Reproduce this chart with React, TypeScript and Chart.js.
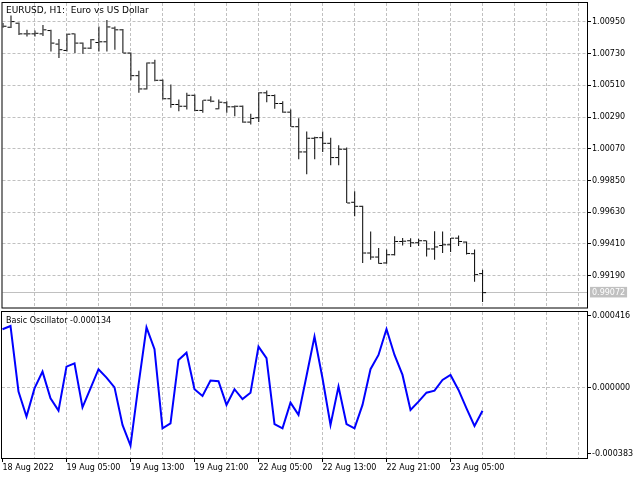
import React, { useEffect, useRef } from "react";
import { Chart, registerables } from "chart.js";

Chart.register(...registerables);

const FONT = "'DejaVu Sans', sans-serif";
Chart.defaults.font.family = FONT;

// ---- Data (EURUSD H1 bars, from 18 Aug 2022 21:00) ----
const opens = [
  1.00916, 1.00913, 1.00941, 1.00867, 1.00867, 1.00867, 1.0089, 1.00796, 1.00752, 1.00867,
  1.00803, 1.00768, 1.00807, 1.00812, 1.00907, 1.00895, 1.00734, 1.00577, 1.00485, 1.00665,
  1.00545, 1.00417, 1.00377, 1.00365, 1.00441, 1.00336, 1.00407, 1.00347, 1.00389, 1.00361,
  1.00365, 1.00255, 1.00285, 1.00458, 1.00439, 1.00384, 1.00324, 1.00223, 1.00048, 1.00143,
  1.00147, 1.00108, 1.00009, 1.00067, 0.99699, 0.99671, 0.99347, 0.99319, 0.99278, 0.99335,
  0.99427, 0.99432, 0.99418, 0.99432, 0.99375, 0.99399, 0.99404, 0.9945, 0.99423, 0.99342,
  0.99204,
];
const highs = [
  1.00943, 1.00994, 1.00945, 1.00895, 1.0089, 1.00929, 1.00895, 1.00831, 1.00867, 1.00869,
  1.00807, 1.00831, 1.00918, 1.00964, 1.00918, 1.009, 1.00738, 1.00612, 1.00669, 1.00688,
  1.0055, 1.00515, 1.00412, 1.00458, 1.00446, 1.00407, 1.00434, 1.00412, 1.004, 1.0037,
  1.0037, 1.00313, 1.00462, 1.00474, 1.00446, 1.004, 1.00343, 1.00281, 1.00189, 1.00154,
  1.00189, 1.00147, 1.00094, 1.00078, 0.99775, 0.99675, 0.99496, 0.99381, 0.99371, 0.99464,
  0.99452, 0.9945, 0.99446, 0.99434, 0.99498, 0.99496, 0.99452, 0.99468, 0.99427, 0.99371,
  0.99231,
];
const lows = [
  1.00909, 1.00907, 1.0086, 1.00849, 1.00849, 1.00853, 1.00745, 1.00699, 1.00745, 1.00734,
  1.00729, 1.00762, 1.00745, 1.00745, 1.00757, 1.00734, 1.00545, 1.00458, 1.00481, 1.00538,
  1.00412, 1.00354, 1.00331, 1.00343, 1.00331, 1.0032, 1.00393, 1.00345, 1.0032, 1.00296,
  1.00251, 1.00239, 1.00255, 1.00393, 1.00347, 1.0032, 1.00223, 0.99998, 0.99894, 0.99998,
  1.00048, 0.99956, 0.99956, 0.99694, 0.99602, 0.99278, 0.993, 0.99273, 0.99273, 0.9933,
  0.99399, 0.99388, 0.99395, 0.99323, 0.993, 0.99347, 0.99354, 0.99395, 0.99337, 0.99147,
  0.99008,
];
const closes = [
  1.0092, 1.00952, 1.00867, 1.00867, 1.00871, 1.00895, 1.00803, 1.00757, 1.00865, 1.00803,
  1.00768, 1.00826, 1.00812, 1.00915, 1.00895, 1.00734, 1.00577, 1.00485, 1.00665, 1.00545,
  1.00417, 1.00377, 1.00365, 1.00441, 1.00336, 1.00407, 1.004, 1.00393, 1.00361, 1.00365,
  1.00255, 1.0028, 1.00458, 1.00439, 1.00384, 1.00324, 1.00223, 1.00048, 1.00143, 1.00147,
  1.00108, 1.00009, 1.00067, 0.99694, 0.99671, 0.99347, 0.99319, 0.99275, 0.99335, 0.99427,
  0.99429, 0.99418, 0.99432, 0.99375, 0.99389, 0.99404, 0.9945, 0.99427, 0.99344, 0.99197,
  0.99072,
];
const oscValues = [
  0.000339, 0.000358, -0.000023, -0.000168, -0.000004, 0.000093, -0.000062, -0.000133, 0.000122, 0.000141,
  -0.000114, -0.000004, 0.000107, 0.000058, 0.000002, -0.000216, -0.000336, 0.000016, 0.00035, 0.000223,
  -0.000236, -0.000207, 0.000161, 0.000203, -0.000009, -0.000048, 0.000041, 0.000037, -0.0001, -0.000009,
  -0.000066, -0.000029, 0.000238, 0.000171, -0.000211, -0.000236, -0.000087, -0.000158, 0.000068, 0.000296,
  0.000055, -0.000216, 0.000006, -0.000211, -0.000236, -0.0001, 0.000107, 0.00019, 0.00034, 0.00019,
  0.000074, -0.000129, -0.000081, -0.000029, -0.000017, 0.000045, 0.000074, -0.000013, -0.00012, -0.000222,
  -0.000134,
];

const priceTicks = [1.0095, 1.0073, 1.0051, 1.0029, 1.0007, 0.9985, 0.9963, 0.9941, 0.9919];
const currentPrice = 0.99072;
const oscTicks = [0.000416, 0, -0.000383];
const timeLabels = [
  "18 Aug 2022", "19 Aug 05:00", "19 Aug 13:00", "19 Aug 21:00",
  "22 Aug 05:00", "22 Aug 13:00", "22 Aug 21:00", "23 Aug 05:00",
];
const timeLabelBars = [0, 8, 16, 24, 32, 40, 48, 56];
const gridBars = [0, 4, 8, 12, 16, 20, 24, 28, 32, 36, 40, 44, 48, 52, 56, 60, 64, 68, 72];
const mainTitle = "EURUSD, H1:  Euro vs US Dollar";
const oscTitle = "Basic Oscillator -0.000134";

// ---- Axis ranges / style ----
const X_MIN = -0.0625;
const X_MAX = 73.0625;
const MAIN_MIN = 0.989691;
const MAIN_MAX = 1.010811;
const OSC_MIN = -0.000408;
const OSC_MAX = 0.000439;
const GRID = "#c0c0c0";
const NONE = "rgba(0,0,0,0)";
const DASH = [3, 2];

function framePlugin(title: string, size: number, baseline: number) {
  return {
    id: "frameAndTitle",
    afterDraw(chart: any) {
      const { ctx, chartArea: a } = chart;
      ctx.save();
      ctx.setLineDash([]);
      ctx.strokeStyle = "#000";
      ctx.lineWidth = 1;
      ctx.strokeRect(a.left - 0.5, a.top - 0.5, a.right - a.left + 1, a.bottom - a.top + 1);
      ctx.fillStyle = "#000";
      ctx.font = `${size}px ${FONT}`;
      ctx.textAlign = "left";
      ctx.textBaseline = "alphabetic";
      ctx.fillText(title, 6, baseline);
      ctx.restore();
    },
  };
}

const isCur = (ctx: any) => !!ctx.tick && Math.abs(ctx.tick.value - currentPrice) < 1e-9;
const isLabeled = (v: number) => timeLabelBars.indexOf(v) >= 0;

export default function App() {
  const topRef = useRef<HTMLCanvasElement>(null);
  const botRef = useRef<HTMLCanvasElement>(null);

  useEffect(() => {
    const main = new Chart(topRef.current as HTMLCanvasElement, {
      type: "bar",
      data: {
        datasets: [
          {
            type: "bar",
            data: opens.map((_, i) => ({ x: i, y: [lows[i], highs[i]] })) as any,
            backgroundColor: "#000",
            borderWidth: 0,
            barThickness: 1,
            inflateAmount: 0,
            grouped: false,
          } as any,
          {
            type: "line",
            data: opens.map((v, i) => ({ x: i - 0.25, y: v })),
            showLine: false,
            pointStyle: "line",
            pointRadius: 1.5,
            pointHoverRadius: 1.5,
            pointBorderWidth: 1,
            pointBorderColor: "#000",
            borderColor: "#000",
          } as any,
          {
            type: "line",
            data: closes.map((v, i) => ({ x: i + 0.25, y: v })),
            showLine: false,
            pointStyle: "line",
            pointRadius: 1.5,
            pointHoverRadius: 1.5,
            pointBorderWidth: 1,
            pointBorderColor: "#000",
            borderColor: "#000",
          } as any,
        ],
      },
      options: {
        responsive: false,
        animation: false,
        events: [],
        devicePixelRatio: 1,
        layout: { padding: { left: 2, top: 3, right: 0, bottom: 0 } },
        plugins: { legend: { display: false }, tooltip: { enabled: false } },
        scales: {
          x: {
            type: "linear",
            min: X_MIN,
            max: X_MAX,
            offset: false,
            afterBuildTicks: (s: any) => {
              s.ticks = gridBars.filter((v) => v > 0).map((v) => ({ value: v }));
            },
            afterFit: (s: any) => {
              s.height = 1;
              s.paddingLeft = 0;
              s.paddingRight = 0;
            },
            ticks: { display: false },
            grid: { color: GRID, lineWidth: 1, drawTicks: false, offset: false },
            border: { display: false, dash: DASH },
          },
          y: {
            type: "linear",
            position: "right",
            min: MAIN_MIN,
            max: MAIN_MAX,
            afterBuildTicks: (s: any) => {
              s.ticks = [...priceTicks, currentPrice].map((v) => ({ value: v }));
            },
            afterFit: (s: any) => {
              s.width = 53;
              s.paddingTop = 0;
              s.paddingBottom = 0;
            },
            ticks: {
              autoSkip: false,
              padding: 1,
              font: { family: FONT, size: 8 },
              color: (ctx: any) => (isCur(ctx) ? "#fff" : "#000"),
              callback: (v: any) => Number(v).toFixed(5),
              showLabelBackdrop: (ctx: any) => isCur(ctx),
              backdropColor: GRID,
              backdropPadding: { top: 1, bottom: 0, left: 2, right: 2 },
            } as any,
            grid: {
              color: GRID,
              lineWidth: 1,
              drawTicks: true,
              tickLength: 4,
              tickWidth: 1,
              tickBorderDash: [],
              tickColor: (ctx: any) => (isCur(ctx) ? NONE : "#000"),
            } as any,
            border: { display: false, dash: (ctx: any) => (isCur(ctx) ? [] : DASH) } as any,
          },
        },
      } as any,
      plugins: [framePlugin(mainTitle, 9, 13)],
    });

    const osc = new Chart(botRef.current as HTMLCanvasElement, {
      type: "line",
      data: {
        datasets: [
          {
            data: oscValues.map((v, i) => ({ x: i, y: v })),
            borderColor: "#0000ff",
            borderWidth: 2,
            pointRadius: 0,
            tension: 0,
            fill: false,
          },
        ],
      },
      options: {
        responsive: false,
        animation: false,
        events: [],
        devicePixelRatio: 1,
        layout: { padding: { left: 2, top: 2, right: 0, bottom: 0 } },
        plugins: { legend: { display: false }, tooltip: { enabled: false } },
        scales: {
          x: {
            type: "linear",
            min: X_MIN,
            max: X_MAX,
            offset: false,
            afterBuildTicks: (s: any) => {
              s.ticks = gridBars.map((v) => ({ value: v }));
            },
            afterFit: (s: any) => {
              s.height = 22;
              s.paddingLeft = 0;
              s.paddingRight = 0;
            },
            ticks: {
              autoSkip: false,
              maxRotation: 0,
              minRotation: 0,
              align: "start",
              padding: 1,
              color: "#000",
              font: { family: FONT, size: 8 },
              callback: (v: any) => {
                const k = timeLabelBars.indexOf(Number(v));
                return k >= 0 ? timeLabels[k] : "";
              },
            },
            grid: {
              color: (ctx: any) => (ctx.tick && ctx.tick.value === 0 ? NONE : GRID),
              lineWidth: 1,
              offset: false,
              drawTicks: true,
              tickLength: 4,
              tickWidth: 1,
              tickBorderDash: [],
              tickColor: (ctx: any) => (ctx.tick && isLabeled(ctx.tick.value) ? "#000" : NONE),
            } as any,
            border: { display: false, dash: DASH },
          },
          y: {
            type: "linear",
            position: "right",
            min: OSC_MIN,
            max: OSC_MAX,
            afterBuildTicks: (s: any) => {
              s.ticks = oscTicks.map((v) => ({ value: v }));
            },
            afterFit: (s: any) => {
              s.width = 53;
              s.paddingTop = 0;
              s.paddingBottom = 0;
            },
            ticks: {
              autoSkip: false,
              padding: 1,
              color: "#000",
              font: { family: FONT, size: 8 },
              callback: (v: any) => Number(v).toFixed(6),
            },
            grid: {
              color: (ctx: any) => (ctx.tick && ctx.tick.value === 0 ? GRID : NONE),
              lineWidth: 1,
              drawTicks: true,
              tickLength: 4,
              tickWidth: 1,
              tickBorderDash: [],
              tickColor: "#000",
            } as any,
            border: { display: false, dash: DASH },
          },
        },
      } as any,
      plugins: [framePlugin(oscTitle, 8, 13)],
    });

    return () => {
      main.destroy();
      osc.destroy();
    };
  }, []);

  return (
    <div style={{ position: "fixed", left: 0, top: 0, width: 640, height: 480, background: "#fff" }}>
      <canvas
        ref={topRef}
        width={640}
        height={310}
        style={{ position: "absolute", left: 0, top: 0, width: 640, height: 310 }}
      />
      <canvas
        ref={botRef}
        width={640}
        height={170}
        style={{ position: "absolute", left: 0, top: 310, width: 640, height: 170 }}
      />
    </div>
  );
}
